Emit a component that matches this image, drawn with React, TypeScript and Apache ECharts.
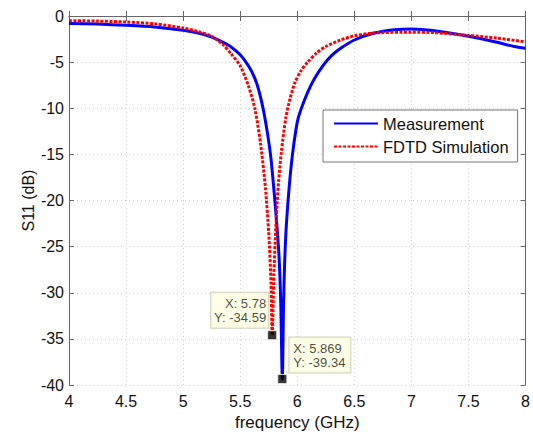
import React, { useEffect, useRef } from "react";
import * as echarts from "echarts";

const measFreq = [4.0, 4.25, 4.5, 4.75, 5.0, 5.15, 5.25, 5.35, 5.42, 5.5, 5.55, 5.6, 5.65, 5.7, 5.74, 5.77, 5.8, 5.82, 5.84, 5.855, 5.869, 5.88, 5.89, 5.905, 5.93, 5.96, 6.0, 6.03, 6.09, 6.15, 6.23, 6.3, 6.38, 6.5, 6.66, 6.85, 7.0, 7.2, 7.5, 7.75, 7.9, 8.0];
const measDb = [-0.8, -0.88, -1.0, -1.18, -1.55, -1.9, -2.3, -2.85, -3.35, -4.2, -5.0, -6.0, -7.5, -10.0, -12.8, -15.5, -19.5, -22.5, -26.0, -31.0, -39.34, -31.0, -26.5, -22.5, -18.4, -14.8, -11.5, -10.2, -8.3, -6.8, -5.3, -4.3, -3.5, -2.6, -1.9, -1.5, -1.4, -1.6, -2.2, -2.85, -3.3, -3.5];

const simFreq = [4.0, 4.25, 4.5, 4.75, 5.0, 5.15, 5.25, 5.35, 5.42, 5.5, 5.57, 5.63, 5.68, 5.72, 5.75, 5.77, 5.78, 5.795, 5.81, 5.83, 5.86, 5.9, 5.94, 5.98, 6.03, 6.09, 6.17, 6.25, 6.38, 6.5, 6.66, 7.0, 7.2, 7.5, 7.75, 8.0];
const simDb = [-0.5, -0.55, -0.65, -0.85, -1.3, -1.75, -2.2, -3.1, -4.1, -5.4, -7.5, -10.1, -14.0, -18.5, -23.5, -29.0, -34.59, -28.0, -23.5, -19.0, -14.8, -11.0, -8.8, -7.2, -6.0, -5.0, -4.0, -3.3, -2.6, -2.15, -1.85, -1.75, -1.8, -2.1, -2.4, -2.8];

const seriesNames = ["Measurement", "FDTD Simulation"];
const tip1 = [5.78, -34.59];
const tip2 = [5.869, -39.34];

const FONT = "Liberation Sans, Arial, sans-serif";

export default function App() {
  const ref = useRef<HTMLDivElement>(null);
  useEffect(() => {
    document.body.style.margin = "0";
    const chart = echarts.init(ref.current!, null, { renderer: "svg" });
    const axisLine = { show: true, lineStyle: { color: "#666", width: 1 } };
    const gridLine = { show: true, lineStyle: { color: "#d2d2d2", type: [1, 3] as any, width: 1 } };
    const tick = { show: true, inside: true, length: 5, lineStyle: { color: "#666" } };
    const tipLabel = {
      show: true,
      fontFamily: FONT,
      fontSize: 13,
      lineHeight: 14,
      color: "#1a1a1a",
      backgroundColor: "#ffffe1",
      borderColor: "#c8c8b0",
      borderWidth: 1,
    };
    chart.setOption({
      animation: false,
      backgroundColor: "#fff",
      textStyle: { fontFamily: FONT },
      grid: { left: 69, right: 3.5, top: 16, bottom: 49, containLabel: false },
      legend: {
        orient: "vertical",
        left: 323,
        top: 110,
        data: seriesNames,
        itemWidth: 44,
        itemHeight: 16,
        itemGap: 6,
        padding: [5, 9, 7, 10],
        borderColor: "#777",
        borderWidth: 1,
        backgroundColor: "#fff",
        itemStyle: { opacity: 0 },
        textStyle: { fontFamily: FONT, fontSize: 16.5, color: "#111" },
      },
      xAxis: [
        {
          type: "value",
          min: 4,
          max: 8,
          interval: 0.5,
          name: "frequency (GHz)",
          nameLocation: "middle",
          nameGap: 28,
          nameTextStyle: { fontFamily: FONT, fontSize: 17, color: "#111" },
          axisLine,
          axisTick: tick,
          axisLabel: { fontFamily: FONT, fontSize: 16, color: "#111", margin: 8, showMaxLabel: true, showMinLabel: true },
          splitLine: gridLine,
        },
        {
          type: "value",
          position: "top",
          min: 4,
          max: 8,
          interval: 0.5,
          axisLine,
          axisTick: tick,
          axisLabel: { show: false },
          splitLine: { show: false },
        },
      ],
      yAxis: [
        {
          type: "value",
          min: -40,
          max: 0,
          interval: 5,
          name: "S11 (dB)",
          nameLocation: "middle",
          nameGap: 33,
          nameMoveOverlap: false,
          nameTextStyle: { fontFamily: FONT, fontSize: 16, color: "#111" },
          axisLine,
          axisTick: tick,
          axisLabel: { fontFamily: FONT, fontSize: 16, color: "#111", margin: 5 },
          splitLine: gridLine,
        },
        {
          type: "value",
          position: "right",
          min: -40,
          max: 0,
          interval: 5,
          axisLine,
          axisTick: tick,
          axisLabel: { show: false },
          splitLine: { show: false },
        },
      ],
      series: [
        {
          name: seriesNames[0],
          type: "line",
          data: measFreq.map((f, i) => [f, measDb[i]]),
          showSymbol: false,
          symbol: "none",
          smooth: 0.25,
          lineStyle: { color: "#0000ff", width: 3 },
          itemStyle: { color: "#0000ff" },
          z: 2,
        },
        {
          name: seriesNames[1],
          type: "line",
          data: simFreq.map((f, i) => [f, simDb[i]]),
          showSymbol: false,
          symbol: "none",
          smooth: 0.25,
          lineStyle: { color: "#ff0000", width: 3, type: [3, 1.5] as any },
          itemStyle: { color: "#ff0000" },
          z: 3,
        },
        {
          type: "scatter",
          symbol: "rect",
          symbolSize: 9,
          itemStyle: { color: "#000", borderColor: "#f4f4d8", borderWidth: 1 },
          z: 5,
          data: [
            {
              value: tip1,
              label: {
                ...tipLabel,
                formatter: `X: ${tip1[0]}\nY: ${tip1[1]}`,
                position: [1, -2.5],
                align: "right",
                verticalAlign: "bottom",
                padding: [4, 2, 3, 3],
              },
            },
            {
              value: tip2,
              label: {
                ...tipLabel,
                formatter: `X: ${tip2[0]}\nY: ${tip2[1]}`,
                position: [12, -1.5],
                align: "left",
                verticalAlign: "bottom",
                padding: [4, 5, 3, 4],
              },
            },
          ],
        },
      ],
    });
    return () => chart.dispose();
  }, []);
  return <div ref={ref} style={{ width: 533, height: 436 }} />;
}
